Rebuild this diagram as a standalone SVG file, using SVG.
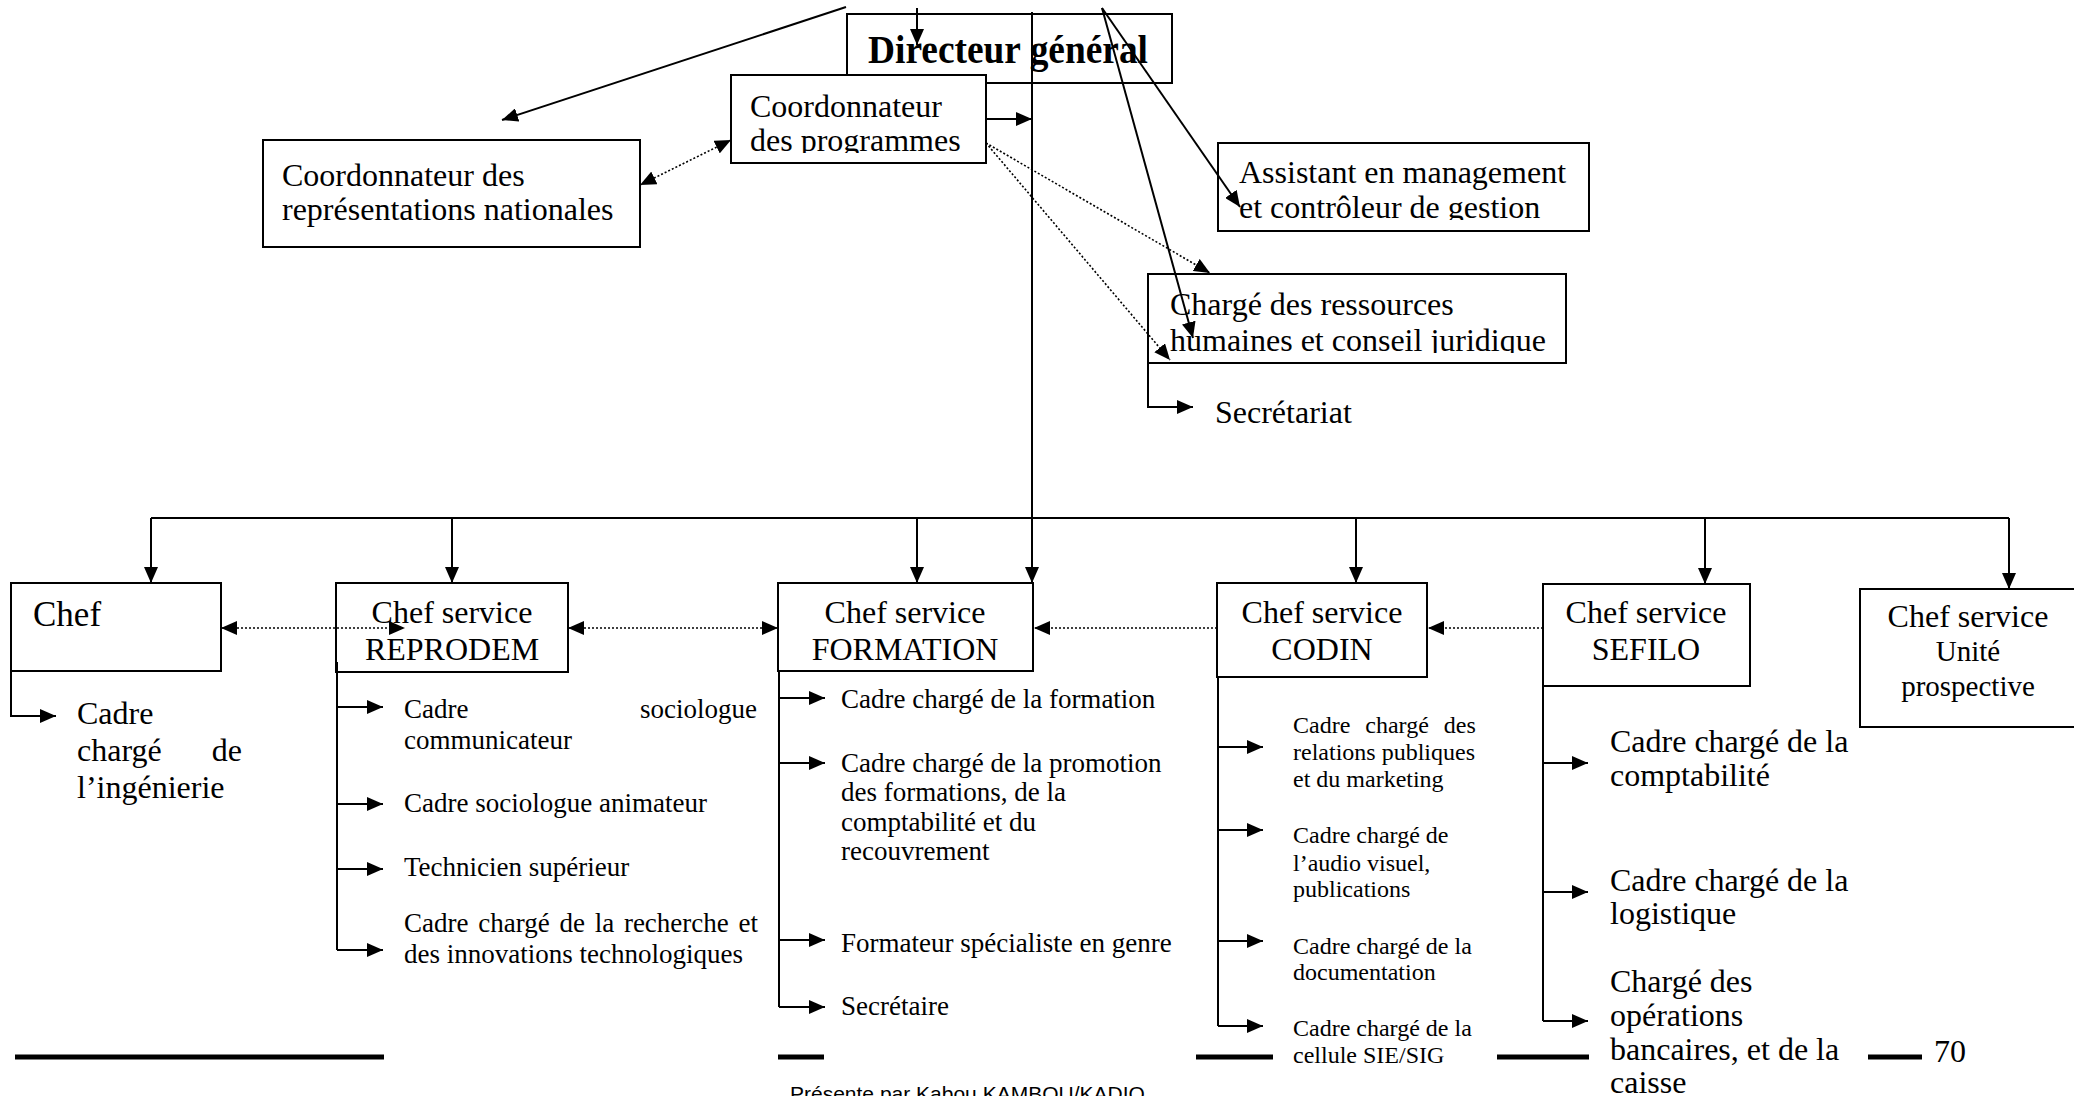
<svg xmlns="http://www.w3.org/2000/svg" width="2074" height="1096" viewBox="0 0 2074 1096">
<style>
.box{fill:#fff;stroke:#000;stroke-width:2}
.t{font-family:"Liberation Serif","Times New Roman",serif;fill:#000}
.t32{font-size:32px}
.t27{font-size:27px}
.t24{font-size:24px}
.c{text-anchor:middle}
.ln{fill:none;stroke:#000;stroke-width:2}
.dot{fill:none;stroke:#000;stroke-width:1.6;stroke-dasharray:2 2}
.foot{stroke:#000;stroke-width:5}
</style>
<defs>
<marker id="a" viewBox="0 0 10 10" refX="10" refY="5" markerWidth="16" markerHeight="14" preserveAspectRatio="none" markerUnits="userSpaceOnUse" orient="auto-start-reverse"><path d="M0,0L10,5L0,10z" fill="#000"/></marker>
<clipPath id="cpProg"><rect x="731" y="75" width="255" height="78"/></clipPath>
<clipPath id="cpAss"><rect x="1218" y="143" width="371" height="77"/></clipPath>
<clipPath id="cpRH"><rect x="1148" y="274" width="418" height="79"/></clipPath>
</defs>
<rect width="2074" height="1096" fill="#fff"/>

<g id="dg">
<rect class="box" x="847" y="14" width="325" height="69"/>
<text class="t" x="868" y="63" font-size="41" font-weight="bold" textLength="280" lengthAdjust="spacingAndGlyphs">Directeur général</text>
</g>
<g id="coord-prog">
<rect class="box" x="731" y="75" width="255" height="88"/>
<g clip-path="url(#cpProg)">
<text class="t t32" x="750" y="117">Coordonnateur</text>
<text class="t t32" x="750" y="151">des programmes</text>
</g>
</g>
<g id="coord-rep">
<rect class="box" x="263" y="140" width="377" height="107"/>
<text class="t t32" x="282" y="186">Coordonnateur des</text>
<text class="t t32" x="282" y="220">représentations nationales</text>
</g>
<g id="assistant">
<rect class="box" x="1218" y="143" width="371" height="88"/>
<g clip-path="url(#cpAss)">
<text class="t t32" x="1239" y="183">Assistant en management</text>
<text class="t t32" x="1239" y="218">et contrôleur de gestion</text>
</g>
</g>
<g id="charge-rh">
<rect class="box" x="1148" y="274" width="418" height="89"/>
<g clip-path="url(#cpRH)">
<text class="t t32" x="1170" y="315">Chargé des ressources</text>
<text class="t t32" x="1170" y="351">humaines et conseil juridique</text>
</g>
</g>
<g id="secretariat">
<text class="t t32" x="1215" y="423">Secrétariat</text>
</g>

<g id="chef">
<rect class="box" x="11" y="583" width="210" height="88"/>
<text class="t" x="33" y="626" font-size="35">Chef</text>
<text class="t t32" x="77" y="724">Cadre</text>
<text class="t t32" x="77" y="761">chargé</text>
<text class="t t32" x="242" y="761" text-anchor="end">de</text>
<text class="t t32" x="77" y="798">l’ingénierie</text>
</g>
<g id="reprodem">
<rect class="box" x="336" y="583" width="232" height="89"/>
<text class="t t32 c" x="452" y="623">Chef service</text>
<text class="t t32 c" x="452" y="660">REPRODEM</text>
<text class="t t27" x="404" y="718">Cadre</text>
<text class="t t27" x="757" y="718" text-anchor="end">sociologue</text>
<text class="t t27" x="404" y="749">communicateur</text>
<text class="t t27" x="404" y="812">Cadre sociologue animateur</text>
<text class="t t27" x="404" y="876">Technicien supérieur</text>
<text class="t t27" x="404" y="932" word-spacing="3">Cadre chargé de la recherche et</text>
<text class="t t27" x="404" y="963">des innovations technologiques</text>
</g>
<g id="formation">
<rect class="box" x="778" y="583" width="255" height="88"/>
<text class="t t32 c" x="905" y="623">Chef service</text>
<text class="t t32 c" x="905" y="660">FORMATION</text>
<text class="t t27" x="841" y="708">Cadre chargé de la formation</text>
<text class="t t27" x="841" y="772">Cadre chargé de la promotion</text>
<text class="t t27" x="841" y="801">des formations, de la</text>
<text class="t t27" x="841" y="831">comptabilité et du</text>
<text class="t t27" x="841" y="860">recouvrement</text>
<text class="t t27" x="841" y="952">Formateur spécialiste en genre</text>
<text class="t t27" x="841" y="1015">Secrétaire</text>
</g>
<g id="codin">
<rect class="box" x="1217" y="583" width="210" height="94"/>
<text class="t t32 c" x="1322" y="623">Chef service</text>
<text class="t t32 c" x="1322" y="660">CODIN</text>
<text class="t t24" x="1293" y="733" word-spacing="9">Cadre chargé des</text>
<text class="t t24" x="1293" y="760">relations publiques</text>
<text class="t t24" x="1293" y="787">et du marketing</text>
<text class="t t24" x="1293" y="843">Cadre chargé de</text>
<text class="t t24" x="1293" y="871">l’audio visuel,</text>
<text class="t t24" x="1293" y="897">publications</text>
<text class="t t24" x="1293" y="954">Cadre chargé de la</text>
<text class="t t24" x="1293" y="980">documentation</text>
<text class="t t24" x="1293" y="1036">Cadre chargé de la</text>
<text class="t t24" x="1293" y="1063">cellule SIE/SIG</text>
</g>
<g id="sefilo">
<rect class="box" x="1543" y="584" width="207" height="102"/>
<text class="t t32 c" x="1646" y="623">Chef service</text>
<text class="t t32 c" x="1646" y="660">SEFILO</text>
<text class="t t32" x="1610" y="752">Cadre chargé de la</text>
<text class="t t32" x="1610" y="786">comptabilité</text>
<text class="t t32" x="1610" y="891">Cadre chargé de la</text>
<text class="t t32" x="1610" y="924">logistique</text>
<text class="t t32" x="1610" y="992">Chargé des</text>
<text class="t t32" x="1610" y="1026">opérations</text>
<text class="t t32" x="1610" y="1060">bancaires, et de la</text>
<text class="t t32" x="1610" y="1093">caisse</text>
</g>
<g id="unite">
<rect class="box" x="1860" y="589" width="218" height="138"/>
<text class="t t32 c" x="1968" y="627">Chef service</text>
<text class="t c" x="1968" y="661" font-size="29">Unité</text>
<text class="t c" x="1968" y="696" font-size="29">prospective</text>
</g>

<g id="connectors">
<path class="ln" d="M846,7L502,120" stroke-width="2.5" marker-end="url(#a)"/>
<path class="ln" d="M917,8V45" marker-end="url(#a)"/>
<path class="ln" d="M1032,12V583" marker-end="url(#a)"/>
<path class="ln" d="M986,119H1032" marker-end="url(#a)"/>
<path class="ln" d="M1102,8L1240,207" marker-end="url(#a)"/>
<path class="ln" d="M1102,8L1193,338" marker-end="url(#a)"/>
<path class="ln" d="M1148,363V407H1193" marker-end="url(#a)"/>
<path class="dot" d="M731,140L640,185" marker-start="url(#a)" marker-end="url(#a)"/>
<path class="dot" d="M986,143L1210,273" marker-end="url(#a)"/>
<path class="dot" d="M986,143L1170,360" marker-end="url(#a)"/>
<path class="ln" d="M151,518H2009"/>
<path class="ln" d="M151,518V583" marker-end="url(#a)"/>
<path class="ln" d="M452,518V583" marker-end="url(#a)"/>
<path class="ln" d="M917,518V583" marker-end="url(#a)"/>
<path class="ln" d="M1356,518V583" marker-end="url(#a)"/>
<path class="ln" d="M1705,518V584" marker-end="url(#a)"/>
<path class="ln" d="M2009,518V589" marker-end="url(#a)"/>
<path class="dot" d="M221,628H405" marker-start="url(#a)" marker-end="url(#a)"/>
<path class="dot" d="M568,628H778" marker-start="url(#a)" marker-end="url(#a)"/>
<path class="dot" d="M1217,628H1034" marker-end="url(#a)"/>
<path class="dot" d="M1543,628H1428" marker-end="url(#a)"/>
<path class="ln" d="M11,671V716H56" marker-end="url(#a)"/>
<path class="ln" d="M337,662V950"/>
<path class="ln" d="M337,707H383" marker-end="url(#a)"/>
<path class="ln" d="M337,804H383" marker-end="url(#a)"/>
<path class="ln" d="M337,869H383" marker-end="url(#a)"/>
<path class="ln" d="M337,950H383" marker-end="url(#a)"/>
<path class="ln" d="M779,671V1007"/>
<path class="ln" d="M779,698H825" marker-end="url(#a)"/>
<path class="ln" d="M779,763H825" marker-end="url(#a)"/>
<path class="ln" d="M779,940H825" marker-end="url(#a)"/>
<path class="ln" d="M779,1007H825" marker-end="url(#a)"/>
<path class="ln" d="M1218,677V1026"/>
<path class="ln" d="M1218,747H1263" marker-end="url(#a)"/>
<path class="ln" d="M1218,830H1263" marker-end="url(#a)"/>
<path class="ln" d="M1218,941H1263" marker-end="url(#a)"/>
<path class="ln" d="M1218,1026H1263" marker-end="url(#a)"/>
<path class="ln" d="M1543,686V1021"/>
<path class="ln" d="M1543,763H1588" marker-end="url(#a)"/>
<path class="ln" d="M1543,892H1588" marker-end="url(#a)"/>
<path class="ln" d="M1543,1021H1588" marker-end="url(#a)"/>
</g>

<g id="footer">
<path class="foot" d="M15,1057H384M778,1057H824M1196,1057H1273M1497,1057H1589M1868,1057H1922"/>
<text class="t t32" x="1934" y="1062">70</text>
<text x="790" y="1101" font-family="'Liberation Sans',Arial,sans-serif" font-size="21">Présente par Kabou KAMBOU/KADIO</text>
</g>
</svg>
